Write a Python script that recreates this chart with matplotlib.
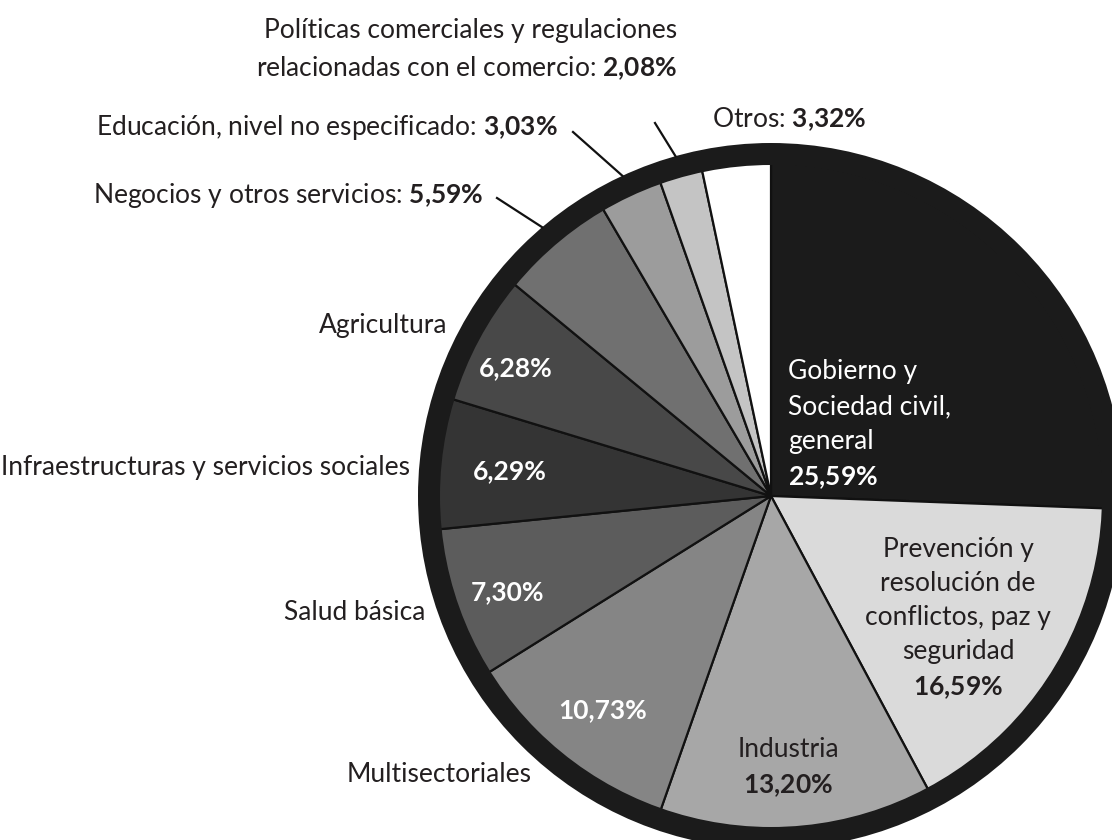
import numpy as np
import matplotlib
matplotlib.use('Agg')
import matplotlib.pyplot as plt
from matplotlib.patches import Circle

# --- data ---
sectores = [
    'Gobierno y\nSociedad civil,\ngeneral',
    'Prevención y\nresolución de\nconflictos, paz y\nseguridad',
    'Industria',
    'Multisectoriales',
    'Salud básica',
    'Infraestructuras y servicios sociales',
    'Agricultura',
    'Negocios y otros servicios',
    'Educación, nivel no especificado',
    'Políticas comerciales y regulaciones\nrelacionadas con el comercio',
    'Otros',
]
porcentajes = [25.59, 16.59, 13.20, 10.73, 7.30, 6.29, 6.28, 5.59, 3.03, 2.08, 3.32]
colores = ['#1b1b1b', '#dadada', '#a7a7a7', '#858585', '#5c5c5c', '#343434',
           '#484848', '#707070', '#9c9c9c', '#c4c4c4', '#ffffff']

# --- layout (pixel coords, y from top) ---
W, H = 1112, 840
CX, CY = 771, 496
R_OUT, R_IN = 353, 331
TXT = '#231f20'

plt.rcParams['font.family'] = 'Lato'
plt.rcParams['mathtext.fontset'] = 'custom'
plt.rcParams['mathtext.rm'] = 'Lato'
plt.rcParams['mathtext.bf'] = 'Lato:bold'
plt.rcParams['mathtext.it'] = 'Lato:italic'
FS = 19


def pct(v):
    return f'{v:.2f}'.replace('.', ',') + '%'


def bold(v):
    return r'$\mathbf{' + pct(v).replace(',', '{,}').replace('%', r'\%') + '}$'


def Y(y):
    return H - y


fig = plt.figure(figsize=(W / 100, H / 100), dpi=100)
ax = fig.add_axes([0, 0, 1, 1])

wedges, _ = ax.pie(porcentajes, colors=colores, startangle=90, counterclock=False,
                   radius=R_IN + 2, center=(CX, Y(CY)), frame=True,
                   wedgeprops=dict(edgecolor='#111111', linewidth=1.6))
ax.set_xlim(0, W)
ax.set_ylim(0, H)
ax.set_aspect('equal')
ax.axis('off')
ax.add_patch(Circle((CX, Y(CY)), (R_OUT + R_IN) / 2, fill=False,
                    edgecolor='#1b1b1b', linewidth=(R_OUT - R_IN) * 0.72, zorder=5))

# labels inside the pie
ax.text(788, Y(425), sectores[0] + '\n' + bold(porcentajes[0]), color='white',
        fontsize=FS, ha='left', va='center', linespacing=1.5, zorder=6)
ax.text(958, Y(619), sectores[1] + '\n' + bold(porcentajes[1]), color=TXT,
        fontsize=FS, ha='center', va='center', linespacing=1.45, zorder=6)
ax.text(788, Y(768), sectores[2] + '\n' + bold(porcentajes[2]), color=TXT,
        fontsize=FS, ha='center', va='center', linespacing=1.45, zorder=6)

inner = {3: (603, 710), 4: (508, 592), 5: (510, 471), 6: (516, 368)}
for i, (x, y) in inner.items():
    ax.text(x, Y(y), pct(porcentajes[i]), color='white', fontsize=FS,
            fontweight='bold', ha='center', va='center', zorder=6)

# names outside the pie
outer = {3: (532, 774), 4: (425, 613), 5: (410, 467), 6: (447, 326)}
for i, (x, y) in outer.items():
    ax.text(x, Y(y), sectores[i], color=TXT, fontsize=FS, ha='right', va='center')

ax.text(712, Y(119), sectores[10] + ': ' + bold(porcentajes[10]), color=TXT,
        fontsize=FS, ha='left', va='center')

# small slices with leader lines
angles = 90 - (np.cumsum(porcentajes) - np.array(porcentajes) / 2) * 3.6
leaders = {7: (483, 196, 497, 198), 8: (558, 128, 573, 132), 9: (677, 50, 655, 123)}
for i, (tx, ty, lx, ly) in leaders.items():
    a = np.deg2rad(angles[i])
    px, py = CX + R_OUT * np.cos(a), Y(CY) + R_OUT * np.sin(a)
    ax.plot([lx, px], [Y(ly), py], color='#111111', lw=1.6, zorder=6)
    lines = sectores[i].split('\n')
    lines[-1] = lines[-1] + ': ' + bold(porcentajes[i])
    ax.text(tx, Y(ty), '\n'.join(lines), color=TXT, fontsize=FS, ha='right',
            va='center', linespacing=1.5)

fig.savefig('out.png', dpi=100)
